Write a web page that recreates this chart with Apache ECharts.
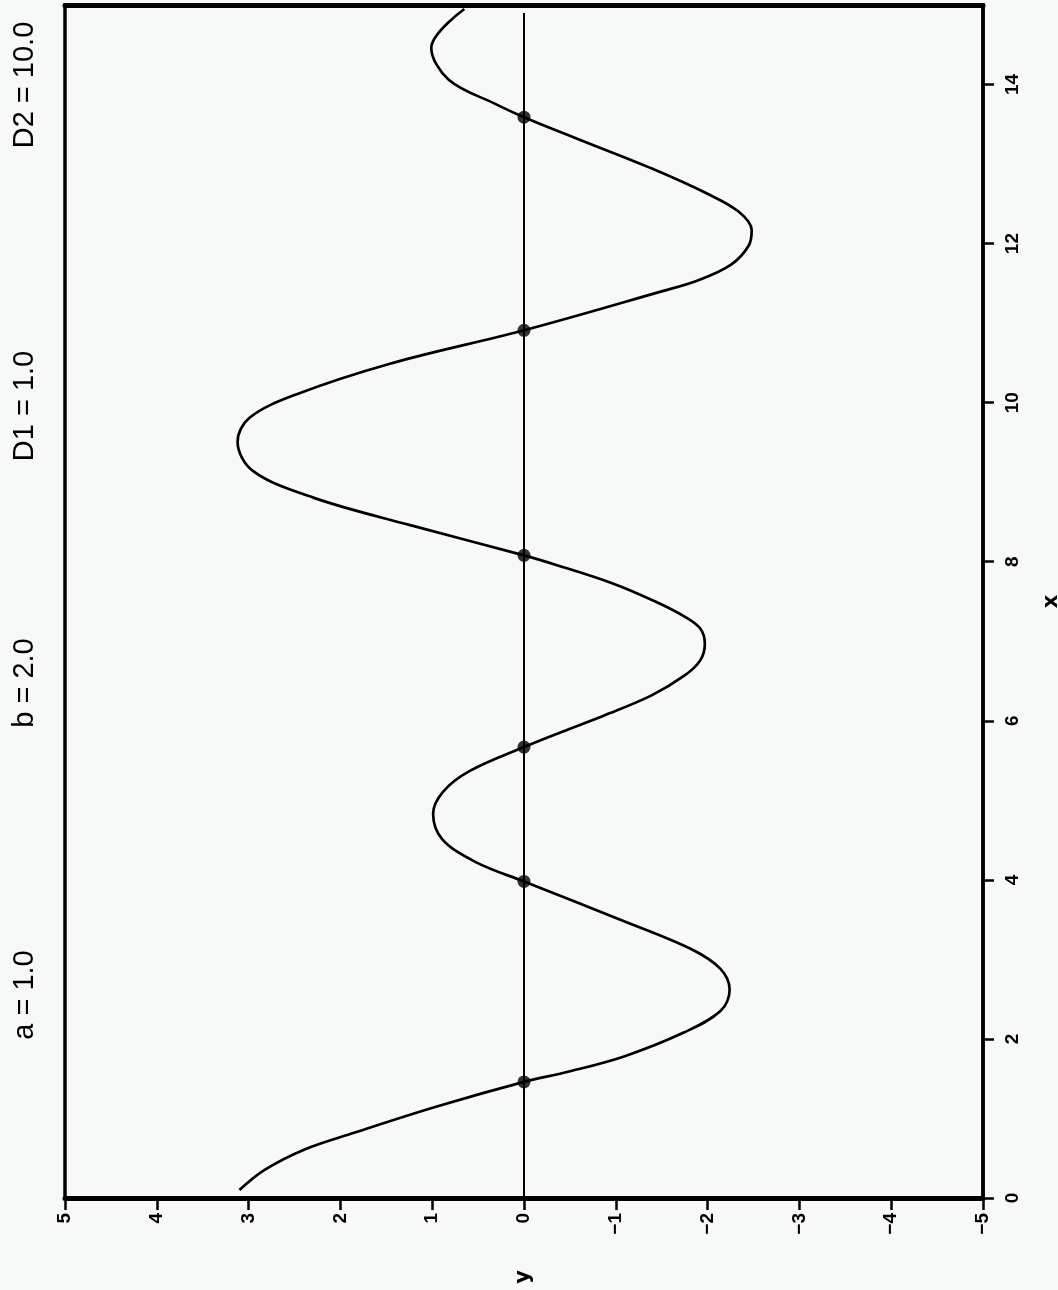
<!DOCTYPE html>
<html>
<head>
<meta charset="utf-8">
<script src="https://cdn.jsdelivr.net/npm/echarts@6/dist/echarts.min.js"></script>
<style>
html,body{margin:0;padding:0;background:#f7f8f8;}
#chart{width:1058px;height:1290px;}
</style>
</head>
<body>
<div id="chart"></div>
<script>
// x (independent variable, drawn vertically) and y values
const xVals = [0.10, 0.35, 0.61, 0.82, 1.15, 1.46, 1.59, 1.78, 2.08, 2.35, 2.62, 2.88, 3.13, 3.48, 3.98,
  4.22, 4.51, 4.83, 5.11, 5.37, 5.67, 5.86, 6.07, 6.32, 6.57, 6.76, 6.97, 7.16, 7.31, 7.50, 7.73, 7.96, 8.08,
  8.46, 8.80, 9.14, 9.51, 9.81, 10.10, 10.49, 10.91, 11.39, 11.54, 11.74, 11.98, 12.17, 12.40, 12.62,
  12.94, 13.30, 13.59, 13.76, 14.06, 14.46, 14.95];
const yVals = [3.10, 2.83, 2.39, 1.85, 0.95, 0.00, -0.49, -1.09, -1.74, -2.14, -2.24, -2.14, -1.82, -1.09, 0.00,
  0.52, 0.89, 0.99, 0.88, 0.59, 0.00, -0.41, -0.88, -1.39, -1.75, -1.92, -1.97, -1.92, -1.75, -1.43, -0.96, -0.35, 0.00,
  1.24, 2.28, 2.95, 3.12, 2.99, 2.49, 1.46, 0.00, -1.47, -1.90, -2.26, -2.45, -2.48, -2.34, -2.01,
  -1.40, -0.62, 0.00, 0.32, 0.82, 1.01, 0.65];
const rootX = [1.46, 3.98, 5.67, 8.08, 10.91, 13.59];
const zeroLineX = [0, 14.9];
const xTicks = [0, 2, 4, 6, 8, 10, 12, 14];
const yTicks = [5, 4, 3, 2, 1, 0, -1, -2, -3, -4, -5];
const titles = ['a = 1.0', 'b = 2.0', 'D1 = 1.0', 'D2 = 10.0'];

const titlePixelY = [995, 683, 406, 85];

const chart = echarts.init(document.getElementById('chart'), null, {renderer: 'canvas'});

const curve = xVals.map((x, i) => [yVals[i], x]);
const roots = rootX.map(x => [0, x]);
const zeroLine = zeroLineX.map(x => [0, x]);

const labelFont = {fontFamily: 'Liberation Sans', fontWeight: 'bold', fontSize: 19, color: '#000'};
const fmt = v => String(v).replace('-', '\u2212');

const option = {
  backgroundColor: '#f7f8f8',
  animation: false,
  grid: {left: 65, right: 75, top: 5, bottom: 92, outerBoundsMode: 'none', containLabel: false,
    show: true, borderColor: '#000', borderWidth: 3.5, backgroundColor: 'transparent'},
  xAxis: [{
    type: 'value', min: -5, max: 5, interval: 1, inverse: true, position: 'bottom',
    name: 'y', nameLocation: 'middle', nameGap: 72, nameRotate: 90,
    nameTextStyle: {fontFamily: 'DejaVu Sans', fontWeight: 'bold', fontSize: 21, color: '#000'},
    axisLine: {show: true, onZero: false, lineStyle: {color: '#000', width: 5}},
    axisTick: {show: true, length: 12, inside: false, lineStyle: {color: '#000', width: 2.5}, customValues: yTicks},
    axisLabel: Object.assign({rotate: 90, margin: 15, customValues: yTicks, formatter: fmt}, labelFont),
    splitLine: {show: false}
  }, {
    type: 'value', min: -5, max: 5, inverse: true, position: 'top',
    axisLine: {show: true, onZero: false, lineStyle: {color: '#000', width: 5}},
    axisTick: {show: false}, axisLabel: {show: false}, splitLine: {show: false}
  }],
  yAxis: {
    type: 'value', min: 0, max: 15, position: 'right',
    name: 'x', nameLocation: 'middle', nameGap: 58, nameRotate: 90,
    nameTextStyle: {fontFamily: 'DejaVu Sans', fontWeight: 'bold', fontSize: 21, color: '#000'},
    axisLine: {show: true, onZero: false, lineStyle: {color: '#000', width: 3.5}},
    axisTick: {show: true, length: 11, inside: false, lineStyle: {color: '#000', width: 2.5}, customValues: xTicks},
    axisLabel: Object.assign({rotate: 90, margin: 20, customValues: xTicks}, labelFont),
    splitLine: {show: false}
  },
  series: [
    {type: 'line', data: zeroLine, symbol: 'none', lineStyle: {color: '#000', width: 2}, silent: true},
    {type: 'line', data: curve, symbol: 'none', smooth: 0.35, lineStyle: {color: '#000', width: 2.7}},
    {type: 'scatter', data: roots, symbol: 'circle', symbolSize: 13, itemStyle: {color: '#000'}}
  ],
  graphic: titles.map((t, i) => ({
    type: 'text',
    x: 25,
    y: titlePixelY[i],
    rotation: Math.PI / 2,
    style: {text: t, fontFamily: 'Liberation Sans', fontSize: 29, fill: '#000', align: 'center', verticalAlign: 'middle'}
  }))
};
chart.setOption(option);
</script>
</body>
</html>
